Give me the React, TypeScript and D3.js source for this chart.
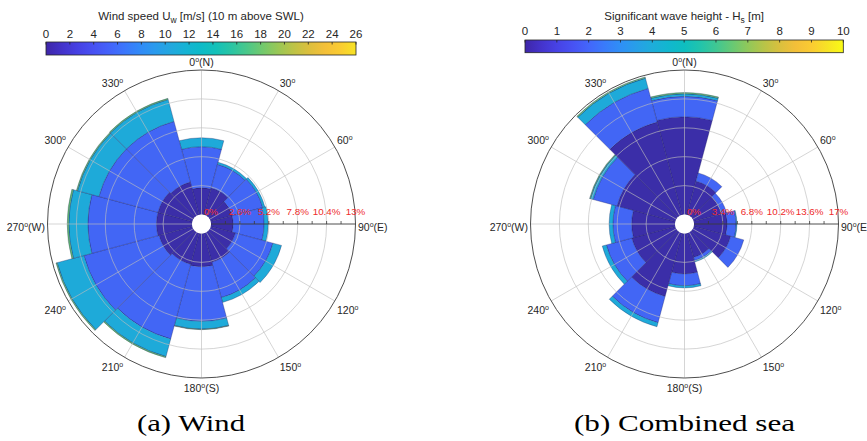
import React from 'react';
import * as d3 from 'd3';

// Direction sectors (deg, clockwise from north), 30 deg wide
const directions = [0, 30, 60, 90, 120, 150, 180, 210, 240, 270, 300, 330];

// Wind: frequency of occurrence (%) per speed class and sector
const windLow = [2.4, 2.5, 2.0, 2.0, 2.3, 2.7, 3.0, 2.9, 3.1, 3.2, 3.2, 3.05];
const windMid = [3.7, 2.2, 2.85, 2.78, 3.5, 3.3, 4.9, 6.95, 7.0, 6.16, 5.5, 5.65];
const windHigh = [0.8, 0.2, 0.2, 0.37, 0.8, 0.45, 0.7, 1.65, 2.5, 1.72, 2.0, 2.05];
const windTop = [0, 0, 0, 0, 0, 0, 0.05, 0.1, 0.1, 0.14, 0.1, 0.1];

// Combined sea: frequency of occurrence (%) per Hs class and sector
const seaLow = [11.5, 4.1, 3.4, 3.9, 4.5, 2.95, 4.75, 7.7, 5.3, 5.1, 7.1, 11.3];
const seaMid = [2.4, 1.0, 0.6, 1.05, 1.6, 0.4, 1.4, 3.2, 3.1, 2.2, 2.9, 4.1];
const seaHigh = [0.3, 0, 0, 0.1, 0, 0.15, 0.25, 0.5, 0.5, 0.45, 0.35, 1.25];
const seaTop = [0.15, 0, 0, 0, 0, 0, 0, 0, 0, 0, 0.1, 0.15];

const classColors = ['#3b2ea8', '#4266f5', '#1eaad9', '#63c072'];

const windTicks = d3.range(0, 27, 2);
const seaTicks = d3.range(0, 11, 1);

// parula-like colour ramp
const parulaStops = [
  '#3e26a8', '#4433cc', '#4741e7', '#4852f4', '#4465fc', '#397bfc', '#2e90f8',
  '#289fe8', '#1fadd9', '#0fb8d0', '#0abec1', '#1fc4ad', '#3dc794', '#66c975',
  '#91c858', '#b8c447', '#d9bf3d', '#f7bd3a', '#fcc933', '#f5e326', '#f9fb15',
];
const parula = d3.interpolateRgbBasis(parulaStops);

const FONT = 'Liberation Sans, Arial, Helvetica, sans-serif';
const R0 = 9.5;
const R = 154;

function Colorbar({ id, x, y, w, h, domain, ticks, tEnd, title, sub, tail, titleY, tickY }) {
  const sx = d3.scaleLinear().domain(domain).range([x, x + w]);
  const stops = d3.range(0, 1.0001, 0.05);
  return (
    <g>
      <defs>
        <linearGradient id={id} x1="0" x2="1" y1="0" y2="0">
          {stops.map((t) => (
            <stop key={t} offset={t} stopColor={parula(t * tEnd)} />
          ))}
        </linearGradient>
      </defs>
      <text x={x + w / 2} y={titleY} fontFamily={FONT} fontSize={11.5} fill="#262626" textAnchor="middle">
        {title}
        <tspan fontSize={8.5} dy={3}>{sub}</tspan>
        <tspan dy={-3}>{tail}</tspan>
      </text>
      <rect x={x} y={y} width={w} height={h} fill={`url(#${id})`} stroke="#262626" strokeWidth={0.8} />
      {ticks.map((t) => (
        <g key={t}>
          <line x1={sx(t)} x2={sx(t)} y1={y} y2={y + 2.5} stroke="#262626" strokeWidth={0.8} />
          <text x={sx(t)} y={tickY} fontFamily={FONT} fontSize={11.5} fill="#262626" textAnchor="middle">
            {t}
          </text>
        </g>
      ))}
    </g>
  );
}

const compass = { 0: 'N', 90: 'E', 180: 'S', 270: 'W' };

function Rose({ cx, cy, max, layers }) {
  const r = d3.scaleLinear().domain([0, max]).range([R0, R]);
  const step = max / 5;
  const half = (15 * Math.PI) / 180;
  const arc = d3.arc();
  const rad = (deg) => (deg * Math.PI) / 180;

  const patches = [];
  directions.forEach((dir, i) => {
    let cum = 0;
    layers.forEach((layer, j) => {
      const v = layer[i];
      if (v > 0) {
        const d = arc({
          innerRadius: r(cum),
          outerRadius: r(cum + v),
          startAngle: rad(dir) - half,
          endAngle: rad(dir) + half,
        });
        patches.push(
          <path key={`${i}-${j}`} d={d} fill={classColors[j]} stroke="#1e1e5a" strokeOpacity={0.45} strokeWidth={0.7} />
        );
      }
      cum += v;
    });
  });

  const rings = d3.range(1, 5).map((k) => k * step);
  const axisTicks = d3.range(1, 10).map((k) => (k * max) / 10);
  const labelVals = d3.range(0, 6).map((k) => k * step);
  const fmt = (v) => `${+v.toFixed(1)}%`;

  const angleLabels = d3.range(0, 360, 30);

  return (
    <g transform={`translate(${cx},${cy})`}>
      {patches}
      {rings.map((v) => (
        <circle key={v} r={r(v)} fill="none" stroke="#bdbdbd" strokeOpacity={0.8} strokeWidth={0.8} />
      ))}
      {angleLabels
        .filter((a) => a !== 90)
        .map((a) => (
          <line
            key={a}
            x1={R0 * Math.sin(rad(a))}
            y1={-R0 * Math.cos(rad(a))}
            x2={R * Math.sin(rad(a))}
            y2={-R * Math.cos(rad(a))}
            stroke="#bdbdbd"
            strokeOpacity={0.8}
            strokeWidth={0.8}
          />
        ))}
      <circle r={R} fill="none" stroke="#3a3a3a" strokeWidth={0.9} />
      <line x1={R0} y1={0} x2={R} y2={0} stroke="#3a3a3a" strokeWidth={0.9} />
      {axisTicks.map((v) => (
        <line key={v} x1={r(v)} x2={r(v)} y1={0} y2={-3} stroke="#3a3a3a" strokeWidth={0.8} />
      ))}
      <circle r={R0} fill="#ffffff" />
      {labelVals.map((v) => (
        <text key={v} x={r(v)} y={-9.5} fontFamily={FONT} fontSize={9.8} fill="#ee2a2a" textAnchor="middle">
          {fmt(v)}
        </text>
      ))}
      {angleLabels.map((a) => {
        const s = Math.sin(rad(a));
        const c = Math.cos(rad(a));
        const ax = (R + 2.5) * s;
        const ay = -(R + 2.5) * c;
        const anchor = s > 0.01 ? 'start' : s < -0.01 ? 'end' : 'middle';
        const by = c > 0.01 ? ay - 1.5 : c < -0.01 ? ay + 11.5 : ay + 7;
        return (
          <text key={a} x={ax} y={by} fontFamily={FONT} fontSize={10.5} fill="#262626" textAnchor={anchor}>
            {a}
            <tspan fontSize={7} dy={-4}>o</tspan>
            {compass[a] !== undefined && <tspan dy={4}>{`(${compass[a]})`}</tspan>}
          </text>
        );
      })}
    </g>
  );
}

export default function App() {
  return (
    <svg
      width={867}
      height={441}
      viewBox="0 0 867 441"
      style={{ position: 'absolute', left: 0, top: 0, background: '#ffffff' }}
    >
      <rect width={867} height={441} fill="#ffffff" />
      <Colorbar
        id="cbWind"
        x={46}
        y={42}
        w={310}
        h={13}
        domain={[0, 26]}
        ticks={windTicks}
        tEnd={0.95}
        title="Wind speed U"
        sub="w"
        tail=" [m/s] (10 m above SWL)"
        titleY={19.5}
        tickY={37.5}
      />
      <Colorbar
        id="cbSea"
        x={525}
        y={40}
        w={318.3}
        h={12.7}
        domain={[0, 10]}
        ticks={seaTicks}
        tEnd={1}
        title="Significant wave height - H"
        sub="s"
        tail=" [m]"
        titleY={19.5}
        tickY={35}
      />
      <Rose cx={201.5} cy={224} max={13} layers={[windLow, windMid, windHigh, windTop]} />
      <Rose cx={684.5} cy={224} max={17} layers={[seaLow, seaMid, seaHigh, seaTop]} />
      <text x={191} y={431} fontFamily="Liberation Serif, Times New Roman, serif" fontSize={24} fill="#000" textAnchor="middle" textLength={108} lengthAdjust="spacingAndGlyphs">
        (a) Wind
      </text>
      <text x={684.5} y={431} fontFamily="Liberation Serif, Times New Roman, serif" fontSize={24} fill="#000" textAnchor="middle" textLength={221} lengthAdjust="spacingAndGlyphs">
        (b) Combined sea
      </text>
    </svg>
  );
}
